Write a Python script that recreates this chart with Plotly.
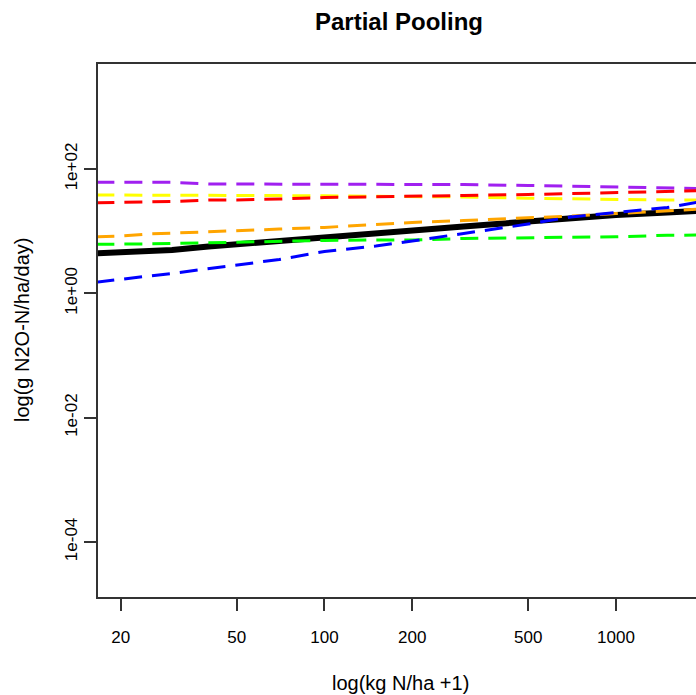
import plotly.graph_objects as go

# x values (kg N/ha + 1)
x_vals = [16.5, 20, 25, 30, 40, 50, 70, 100, 150, 200, 300, 500, 700, 1000, 1500, 1900]

# y values (g N2O-N/ha/day) per line
purple = [61.1, 61.1, 61.1, 61.1, 57.4, 57.4, 57.0, 55.9, 55.9, 56.2, 56.2, 54.3, 52.7, 51.3, 48.9, 48.6]
yellow = [38.2, 38.2, 38.0, 37.8, 37.5, 37.5, 37.3, 37.0, 36.8, 36.5, 35.5, 33.8, 32.9, 32.3, 31.7, 31.7]
red    = [28.7, 28.9, 29.4, 30.0, 31.7, 31.7, 32.9, 34.8, 35.7, 36.8, 37.5, 38.9, 40.3, 41.9, 43.5, 44.6]
orange = [8.15, 8.36, 9.01, 9.35, 9.89, 10.2, 10.8, 11.5, 13.0, 13.8, 14.8, 16.3, 17.5, 19.2, 21.1, 22.5]
green  = [6.15, 6.15, 6.23, 6.34, 6.53, 6.70, 6.95, 7.08, 7.21, 7.21, 7.62, 7.76, 7.91, 8.14, 8.58, 8.67]
blue   = [1.51, 1.70, 1.90, 2.09, 2.51, 2.86, 3.50, 4.71, 5.77, 6.95, 9.18, 13.0, 16.9, 20.0, 24.0, 29.1]
black  = [4.41, 4.54, 4.80, 4.98, 5.66, 6.11, 6.95, 7.96, 9.35, 10.3, 11.9, 14.3, 16.3, 18.2, 20.0, 21.1]

x_ticks = [20, 50, 100, 200, 500, 1000]
y_ticks = [1e-4, 1e-2, 1e0, 1e2]
y_ticktext = ["1e-04", "1e-02", "1e+00", "1e+02"]

FONT = "Liberation Sans, Arial, Helvetica, sans-serif"
DASH = "18px,10px"

fig = go.Figure()
fig.add_trace(go.Scatter(x=x_vals, y=black, mode="lines",
                         line=dict(color="black", width=6), showlegend=False))
for ys, col in [(purple, "#A020F0"), (yellow, "#FFFF00"), (red, "#FF0000"),
                (orange, "#FFA500"), (green, "#00FF00"), (blue, "#0000FF")]:
    fig.add_trace(go.Scatter(x=x_vals, y=ys, mode="lines",
                             line=dict(color=col, width=3, dash=DASH), showlegend=False))

fig.update_layout(
    width=696, height=695,
    margin=dict(l=98, r=0, t=64, b=98, pad=0),
    plot_bgcolor="white", paper_bgcolor="white",
    font=dict(family=FONT, color="black"),
    title=dict(text="<b>Partial Pooling</b>", font=dict(size=24, family=FONT, color="black"),
               x=399 / 696, xref="container", xanchor="center",
               y=1 - 21.7 / 695, yref="container", yanchor="middle"),
    xaxis=dict(type="log", range=[1.2231, 3.2746], tickvals=x_ticks,
               ticktext=[str(v) for v in x_ticks],
               showgrid=False, zeroline=False, showline=True, linecolor="#333",
               linewidth=1.5, mirror=True, ticks="outside", ticklen=12, tickwidth=1.5,
               tickcolor="#333", tickfont=dict(size=17), ticklabelstandoff=12),
    yaxis=dict(type="log", range=[-4.885, 3.689], tickvals=y_ticks, ticktext=y_ticktext,
               showgrid=False, zeroline=False, showline=True, linecolor="#333",
               linewidth=1.5, ticks="outside", ticklen=12, tickwidth=1.5,
               tickcolor="#333", tickangle=-90, tickfont=dict(size=17)),
    annotations=[
        dict(text="log(kg N/ha +1)", xref="paper", yref="paper",
             x=(400 - 98) / 598, y=(597 - 683) / 533, xanchor="center", yanchor="middle",
             showarrow=False, font=dict(size=20)),
        dict(text="log(g N2O-N/ha/day)", xref="paper", yref="paper",
             x=(22 - 98) / 598, y=(597 - 330) / 533, xanchor="center", yanchor="middle",
             textangle=-90, showarrow=False, font=dict(size=20)),
    ],
)

fig.write_html("out.html", config={"displayModeBar": False},
               post_script="document.body.style.margin='0';document.body.style.padding='0';")
